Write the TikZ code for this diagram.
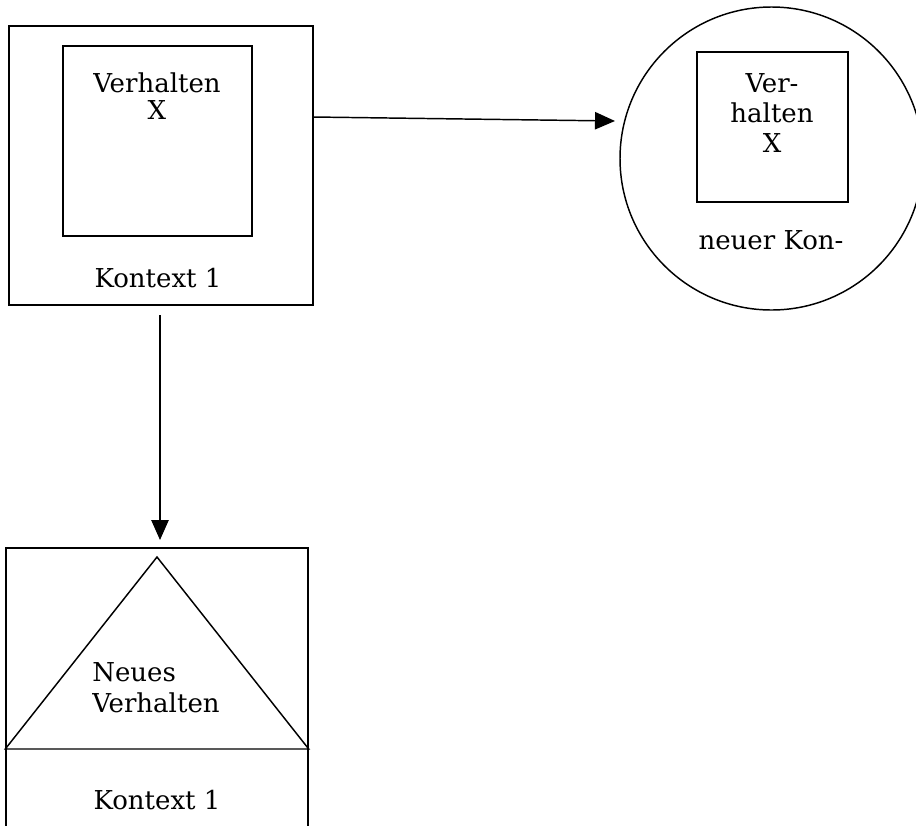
\documentclass[tikz,border=0pt]{standalone}
\usepackage{fontspec}
\setmainfont{DejaVu Serif}
\usetikzlibrary{arrows.meta}
\tikzset{
  kasten/.style={draw,line width=1.1pt,inner sep=0pt},
  pfeil/.style={line width=1.1pt,-{Triangle[length=15pt,width=13pt]}},
  txt/.style={align=center,inner sep=0pt,font=\fontsize{19.5}{20.5}\selectfont}
}
\begin{document}
\begin{tikzpicture}[x=0.75pt,y=-0.75pt]
  \useasboundingbox (0,0) rectangle (916,825);
  \clip (0,0) rectangle (916,825);
  % Kontext 1 oben
  \node[kasten,minimum width=304*0.75pt,minimum height=279*0.75pt] (kontext) at (161,165.5) {};
  \node[kasten,minimum width=189*0.75pt,minimum height=190*0.75pt] (verhalten) at (157.5,141) {};
  \node[txt] (tverhalten) at (157,96) {Verhalten\\X};
  \node[txt] (tkontext) at (158,278) {Kontext 1};
  % neuer Kontext
  \node[kasten,circle,minimum size=303*0.75pt] (neukontext) at (771.5,158.5) {};
  \node[kasten,minimum width=151*0.75pt,minimum height=150*0.75pt] (verhalten2) at (772.5,127) {};
  \node[txt,font=\fontsize{19.5}{22.5}\selectfont] (tverhalten2) at (772,113) {Ver-\\halten\\X};
  \node[txt] (tneu) at (771,240) {neuer Kon-};
  % Kontext 1 unten
  \node[kasten,minimum width=302*0.75pt,minimum height=300*0.75pt] (kontextunten) at (157,698) {};
  \draw[line width=1.1pt] (kontextunten.west |- 0,749) coordinate (dreieckl)
    -- (157,557) coordinate (dreieckspitze)
    -- (kontextunten.east |- 0,749) coordinate (dreieckr) -- cycle;
  \node[txt,align=left,anchor=west,font=\fontsize{19.5}{23}\selectfont] (tneues) at (92,688) {Neues\\Verhalten};
  \node[txt] (tkontextunten) at (157,800) {Kontext 1};
  % Pfeile
  \coordinate (rechtsstart) at (313,117);
  \coordinate (rechtsende) at (615,121);
  \draw[pfeil] (rechtsstart) -- (rechtsende);
  \coordinate (untenstart) at (160,315);
  \coordinate (untenende) at (160,540);
  \draw[pfeil] (untenstart) -- (untenende);
\end{tikzpicture}
\end{document}
